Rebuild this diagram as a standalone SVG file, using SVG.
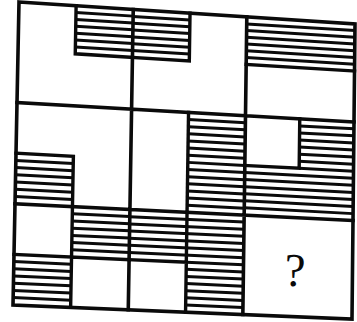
<svg xmlns="http://www.w3.org/2000/svg" width="357" height="322" viewBox="0 0 357 322">
<style>
.grid{fill:none;stroke:#0a0a0a;stroke-width:3.6;stroke-linecap:square;stroke-linejoin:miter}
.out{fill:none;stroke:#0a0a0a;stroke-width:3.4;vector-effect:non-scaling-stroke;stroke-linecap:square}
.hat{fill:none;stroke:#0a0a0a;stroke-width:3;vector-effect:non-scaling-stroke}
.q{font-family:"Liberation Serif","Times New Roman",serif;font-size:47px;fill:#0a0a0a}
</style>
<rect width="357" height="322" fill="#fff"/>
<g id="cell11" transform="matrix(1.1441,0.0703,-0.0182,1.0015,18.915,2.225)">
<path class="hat" d="M50 6.86H100M50 13.71H100M50 20.57H100M50 27.43H100M50 34.29H100M50 41.14H100"/>
<path class="out" d="M50 0V48H100"/>
</g>
<g id="cell12" transform="matrix(1.1374,0.0699,-0.0148,0.9925,133.155,9.705)">
<path class="hat" d="M0 6.86H50M0 13.71H50M0 20.57H50M0 27.43H50M0 34.29H50M0 41.14H50"/>
<path class="out" d="M0 48H50V0"/>
</g>
<g id="cell13" transform="matrix(1.0835,0.0665,-0.0115,0.9837,246.73,17.135)">
<path class="hat" d="M0 6.86H100M0 13.71H100M0 20.57H100M0 27.43H100M0 34.29H100M0 41.14H100"/>
<path class="out" d="M0 48H100"/>
</g>
<g id="cell21" transform="matrix(1.1475,0.06125,-0.0184,1.00745,16.925,102.83)">
<path class="hat" d="M0 57.14H50M0 64.29H50M0 71.43H50M0 78.57H50M0 85.71H50M0 92.86H50"/>
<path class="out" d="M0 50H50V100"/>
</g>
<g id="cell22" transform="matrix(1.14075,0.0609,-0.01505,0.9984,131.51,109.41)">
<path class="hat" d="M50 7.14H100M50 14.29H100M50 21.43H100M50 28.57H100M50 35.71H100M50 42.86H100M50 50H100M50 57.14H100M50 64.29H100M50 71.43H100M50 78.57H100M50 85.71H100M50 92.86H100"/>
<path class="out" d="M50 0V100"/>
</g>
<g id="cell23" transform="matrix(1.08675,0.0579,-0.01175,0.9896,245.42,115.94)">
<path class="hat" d="M50 7.14H100M50 14.29H100M50 21.43H100M50 28.57H100M50 35.71H100M50 42.86H100M50 50H100M0 57.14H100M0 64.29H100M0 71.43H100M0 78.57H100M0 85.71H100M0 92.86H100"/>
<path class="out" d="M50 0V50H0"/>
</g>
<g id="cell31" transform="matrix(1.1509,0.05215,-0.0183,1.00745,14.915,204.03)">
<path class="hat" d="M50 7.14H100M50 14.29H100M50 21.43H100M50 28.57H100M50 35.71H100M50 42.86H100M0 57.14H50M0 64.29H50M0 71.43H50M0 78.57H50M0 85.71H50M0 92.86H50"/>
<path class="out" d="M50 0V100M0 50H100"/>
</g>
<g id="cell32" transform="matrix(1.1441,0.05185,-0.0149,0.99835,129.84,209.70)">
<path class="hat" d="M0 7.14H100M0 14.29H100M0 21.43H100M0 28.57H100M0 35.71H100M0 42.86H100M50 50H100M50 57.14H100M50 64.29H100M50 71.43H100M50 78.57H100M50 85.71H100M50 92.86H100"/>
<path class="out" d="M50 0V100M0 50H50"/>
</g>
<g id="cell33">
<text class="q" x="295" y="286" text-anchor="middle" transform="rotate(2.5 295 270)">?</text>
</g>
<g id="grid">
<path class="grid" d="M17.01 102.6L354.01 121.94M15 203.8L353 220.47M133.24 9.48L128.26 309.76M246.81 16.92L242.84 314.49"/>
<path class="grid" d="M19 2L355 24L352 319L13 305Z"/>
</g>
</svg>
